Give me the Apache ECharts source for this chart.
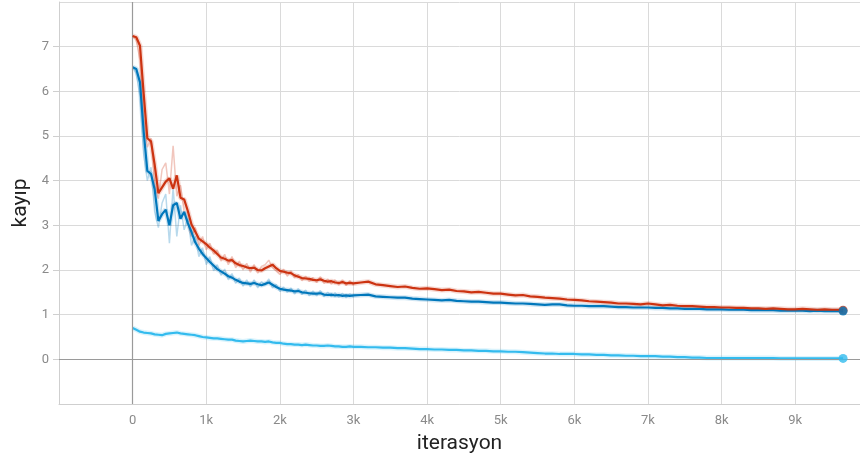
<!DOCTYPE html>
<html>
<head>
<meta charset="utf-8">
<script src="https://cdn.jsdelivr.net/npm/echarts@6/dist/echarts.min.js"></script>
<style>
  html, body { margin: 0; padding: 0; background: #fff; }
  #chart { width: 860px; height: 459px; }
</style>
</head>
<body>
<div id="chart"></div>
<script>
// Training steps: every 50 up to 3k, every 100 after, plus the last logged step.
const steps = [];
for (let s = 0; s <= 3000; s += 50) steps.push(s);
for (let s = 3100; s <= 9600; s += 100) steps.push(s);
steps.push(9650);

// Smoothed loss per run
const lossRed = [
  7.24, 7.21, 7.02, 5.95, 4.95, 4.88, 4.35, 3.72, 3.85, 3.98,
  4.05, 3.82, 4.12, 3.62, 3.58, 3.32, 3.02, 2.86, 2.70, 2.64,
  2.58, 2.50, 2.44, 2.36, 2.28, 2.25, 2.21, 2.22, 2.15, 2.11,
  2.09, 2.06, 2.04, 2.05, 2.00, 1.99, 2.04, 2.08, 2.12, 2.04,
  1.98, 1.96, 1.94, 1.93, 1.88, 1.85, 1.82, 1.81, 1.80, 1.78,
  1.77, 1.79, 1.76, 1.74, 1.75, 1.72, 1.71, 1.73, 1.70, 1.71,
  1.70,
  1.72, 1.74, 1.68, 1.66, 1.64, 1.62, 1.63, 1.60, 1.58, 1.59,
  1.57, 1.55, 1.56, 1.53, 1.52, 1.50, 1.51, 1.49, 1.47, 1.47,
  1.45, 1.43, 1.44, 1.41, 1.40, 1.38, 1.37, 1.36, 1.34, 1.33,
  1.32, 1.30, 1.29, 1.28, 1.27, 1.25, 1.25, 1.24, 1.23, 1.25,
  1.23, 1.21, 1.22, 1.20, 1.19, 1.19, 1.18, 1.17, 1.17, 1.16,
  1.16, 1.15, 1.15, 1.14, 1.14, 1.13, 1.14, 1.13, 1.12, 1.12,
  1.13, 1.12, 1.11, 1.12, 1.11, 1.11,
  1.10
];
const lossBlue = [
  6.54, 6.50, 6.20, 5.10, 4.22, 4.15, 3.80, 3.10, 3.25, 3.35,
  3.00, 3.45, 3.50, 3.15, 3.30, 3.05, 2.85, 2.62, 2.48, 2.36,
  2.27, 2.18, 2.10, 2.02, 1.97, 1.92, 1.86, 1.83, 1.78, 1.74,
  1.71, 1.70, 1.69, 1.71, 1.68, 1.66, 1.69, 1.72, 1.67, 1.62,
  1.58, 1.56, 1.55, 1.54, 1.52, 1.53, 1.50, 1.49, 1.48, 1.47,
  1.47, 1.48, 1.45, 1.44, 1.45, 1.43, 1.44, 1.42, 1.43, 1.42,
  1.43,
  1.44, 1.45, 1.41, 1.40, 1.39, 1.38, 1.38, 1.36, 1.35, 1.34,
  1.33, 1.32, 1.33, 1.31, 1.30, 1.29, 1.29, 1.28, 1.27, 1.27,
  1.26, 1.25, 1.25, 1.24, 1.23, 1.22, 1.23, 1.23, 1.21, 1.20,
  1.20, 1.19, 1.19, 1.19, 1.18, 1.17, 1.17, 1.16, 1.16, 1.16,
  1.15, 1.15, 1.14, 1.14, 1.13, 1.13, 1.13, 1.12, 1.12, 1.12,
  1.11, 1.11, 1.11, 1.10, 1.10, 1.10, 1.10, 1.09, 1.09, 1.09,
  1.09, 1.08, 1.09, 1.08, 1.08, 1.08,
  1.08
];
const lossCyan = [
  0.70, 0.66, 0.62, 0.60, 0.59, 0.58, 0.56, 0.55, 0.54, 0.57,
  0.58, 0.59, 0.60, 0.58, 0.57, 0.56, 0.55, 0.54, 0.52, 0.50,
  0.49, 0.48, 0.47, 0.47, 0.46, 0.45, 0.44, 0.44, 0.42, 0.41,
  0.40, 0.41, 0.42, 0.41, 0.40, 0.40, 0.39, 0.40, 0.38, 0.37,
  0.37, 0.35, 0.34, 0.34, 0.33, 0.33, 0.32, 0.33, 0.32, 0.31,
  0.31, 0.30, 0.30, 0.31, 0.30, 0.29, 0.29, 0.28, 0.28, 0.29,
  0.28,
  0.28, 0.27, 0.27, 0.26, 0.26, 0.25, 0.25, 0.24, 0.23, 0.23,
  0.22, 0.22, 0.21, 0.21, 0.20, 0.20, 0.19, 0.19, 0.18, 0.18,
  0.17, 0.17, 0.16, 0.15, 0.14, 0.13, 0.13, 0.12, 0.12, 0.12,
  0.11, 0.11, 0.10, 0.10, 0.09, 0.09, 0.08, 0.08, 0.07, 0.07,
  0.07, 0.06, 0.06, 0.05, 0.05, 0.04, 0.04, 0.03, 0.03, 0.03,
  0.03, 0.03, 0.03, 0.03, 0.03, 0.03, 0.03, 0.02, 0.02, 0.02,
  0.02, 0.02, 0.02, 0.02, 0.02, 0.02,
  0.02
];

// Unsmoothed loss over the first 3k steps (same step grid)
const rawRed = [
  7.24, 7.15, 6.70, 5.40, 4.75, 4.95, 3.90, 3.60, 4.25, 4.40,
  3.70, 4.78, 3.65, 3.90, 3.30, 3.05, 2.75, 2.95, 2.55, 2.75,
  2.45, 2.60, 2.35, 2.45, 2.20, 2.35, 2.12, 2.30, 2.05, 2.20,
  2.00, 2.15, 1.95, 2.12, 1.93, 2.08, 2.12, 2.22, 2.05, 1.98,
  1.90, 2.02, 1.86, 1.98, 1.82, 1.90, 1.76, 1.86, 1.74, 1.83,
  1.72, 1.85, 1.70, 1.80, 1.68, 1.78, 1.66, 1.78, 1.65, 1.76,
  1.66
];
const rawBlue = [
  6.54, 6.40, 5.90, 4.60, 4.00, 4.30, 3.30, 2.95, 3.50, 3.70,
  2.60, 3.85, 2.75, 3.45, 2.90, 3.15, 2.55, 2.75, 2.30, 2.50,
  2.12, 2.30, 1.98, 2.12, 1.88, 2.02, 1.78, 1.92, 1.70, 1.82,
  1.64, 1.78, 1.62, 1.78, 1.60, 1.74, 1.66, 1.80, 1.60, 1.68,
  1.52, 1.62, 1.50, 1.60, 1.46, 1.58, 1.45, 1.55, 1.42, 1.53,
  1.42, 1.54, 1.40, 1.50, 1.40, 1.49, 1.39, 1.48, 1.38, 1.47,
  1.39
];

const yTicks = { min: -1, max: 8, step: 1 };
const xTicks = { min: -1000, max: 9880, step: 1000 };

const RED = '#cc3311', BLUE = '#0077bb', CYAN = '#33bbee';

function pairs(vals) {
  return vals.map((v, i) => [steps[i], v]);
}
function lastPoint(vals) {
  const i = Math.min(vals.length, steps.length) - 1;
  return [[steps[i], vals[i]]];
}

const chart = echarts.init(document.getElementById('chart'));
const labelStyle = { color: '#8a8a8a', fontSize: 13, fontFamily: 'Roboto' };

function halo(vals, color) {
  return {
    type: 'line', data: pairs(vals), showSymbol: false, silent: true,
    lineStyle: { color: color, width: 5, opacity: 0.18 }, z: 2
  };
}
function raw(vals, color) {
  return {
    type: 'line', data: pairs(vals), showSymbol: false, silent: true,
    lineStyle: { color: color, width: 1.5, opacity: 0.28 }, z: 2
  };
}
function main(vals, color, z) {
  return {
    type: 'line', data: pairs(vals), showSymbol: false,
    lineStyle: { color: color, width: 2.2 }, z: z
  };
}
function endDot(vals, color, z) {
  return {
    type: 'scatter', data: lastPoint(vals), symbolSize: 9,
    itemStyle: { color: color }, z: z
  };
}

chart.setOption({
  animation: false,
  backgroundColor: '#ffffff',
  grid: { left: 59, right: 0, top: 2, bottom: 55 },
  xAxis: {
    type: 'value', min: xTicks.min, max: xTicks.max, interval: xTicks.step,
    name: 'iterasyon', nameLocation: 'middle', nameGap: 29,
    nameTextStyle: { color: '#222', fontSize: 21, fontFamily: 'Roboto' },
    axisLine: { onZero: false, lineStyle: { color: '#cfcfcf' } },
    axisTick: { show: false },
    axisLabel: Object.assign({
      margin: 10, showMinLabel: false, showMaxLabel: false,
      formatter: v => v === 0 ? '0' : (v / 1000) + 'k'
    }, labelStyle),
    splitLine: { show: true, lineStyle: { color: '#dadada' } }
  },
  yAxis: {
    type: 'value', min: yTicks.min, max: yTicks.max, interval: yTicks.step,
    name: 'kayıp', nameLocation: 'middle', nameGap: 25, nameRotate: 90,
    nameTextStyle: { color: '#222', fontSize: 21, fontFamily: 'Roboto' },
    axisLine: { show: true, onZero: false, lineStyle: { color: '#cfcfcf' } },
    axisTick: { show: true, length: 6, lineStyle: { color: '#cfcfcf' } },
    axisLabel: Object.assign({
      margin: 10, showMinLabel: false, showMaxLabel: false
    }, labelStyle),
    splitLine: { show: true, lineStyle: { color: '#dadada' } }
  },
  series: [
    {
      type: 'line', data: [], z: 1, silent: true,
      markLine: {
        silent: true, symbol: 'none', label: { show: false },
        lineStyle: { color: '#9a9a9a', type: 'solid', width: 1.2 },
        data: [{ xAxis: 0 }, { yAxis: 0 }]
      }
    },
    halo(lossCyan, CYAN),
    halo(lossBlue, BLUE),
    halo(lossRed, RED),
    raw(rawBlue, BLUE),
    raw(rawRed, RED),
    main(lossCyan, CYAN, 3),
    main(lossBlue, BLUE, 4),
    main(lossRed, RED, 5),
    endDot(lossRed, RED, 6),
    endDot(lossBlue, BLUE, 7),
    endDot(lossCyan, CYAN, 7)
  ]
});
</script>
</body>
</html>
